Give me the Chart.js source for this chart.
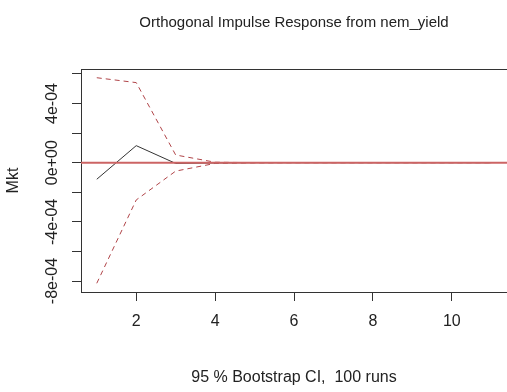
<!DOCTYPE html>
<html>
<head>
<meta charset="utf-8">
<script src="https://cdn.jsdelivr.net/npm/chart.js@4"></script>
<style>
  html, body { margin: 0; padding: 0; background: #fff; }
  #wrap { width: 507px; height: 392px; }
</style>
</head>
<body>
<div id="wrap"><canvas id="c" width="507" height="392"></canvas></div>
<script>
// ---- data ----
const horizon = [1, 2, 3, 4, 5, 6, 7, 8, 9, 10, 11];
const irfMkt = [-1.12e-4, 1.15e-4, -0.05e-4, -0.02e-4, 0, 0, 0, 0, 0, 0, 0];
const upperCI = [5.74e-4, 5.41e-4, 0.52e-4, 0.03e-4, 0, 0, 0, 0, 0, 0, 0];
const lowerCI = [-8.15e-4, -2.52e-4, -0.57e-4, -0.05e-4, -0.01e-4, 0, 0, 0, 0, 0, 0];
const zeroLine = 0;
const xTickValues = [2, 4, 6, 8, 10];
const yTickValues = [-8e-4, -6e-4, -4e-4, -2e-4, 0, 2e-4, 4e-4, 6e-4];
const yTickLabels = ['-8e-04', '', '-4e-04', '', '0e+00', '', '4e-04', ''];
const xRange = [0.6, 11.4];
const yRange = [-8.74e-4, 6.33e-4];
const titleText = 'Orthogonal Impulse Response from nem_yield';
const subText = '95 % Bootstrap CI,  100 runs';
const yTitle = 'Mkt';

const FONT = "'Liberation Sans', Arial, sans-serif";
const toPts = (vals) => vals.map((v, i) => ({ x: horizon[i], y: v }));

const extras = {
  id: 'extras',
  afterDatasetsDraw(chart) {
    const { ctx, chartArea: a, scales: { x, y } } = chart;
    // red zero line (abline h=0)
    const y0 = y.getPixelForValue(zeroLine);
    ctx.save();
    ctx.strokeStyle = '#cc6464';
    ctx.lineWidth = 2;
    ctx.beginPath();
    ctx.moveTo(a.left, y0);
    ctx.lineTo(a.right, y0);
    ctx.stroke();
    // top edge of the box (right edge falls off the picture)
    ctx.lineWidth = 1;
    ctx.strokeStyle = '#333';
    ctx.beginPath();
    ctx.moveTo(a.left, a.top + 0.5);
    ctx.lineTo(a.right + 2, a.top + 0.5);
    ctx.stroke();
    ctx.restore();
  },
  afterDraw(chart) {
    const { ctx, scales: { y } } = chart;
    ctx.save();
    ctx.fillStyle = '#222';
    ctx.font = '16px ' + FONT;
    ctx.textAlign = 'center';
    ctx.textBaseline = 'middle';
    yTickValues.forEach((v, i) => {
      if (!yTickLabels[i]) return;
      const py = y.getPixelForValue(v);
      ctx.save();
      ctx.translate(53, py);
      ctx.rotate(-Math.PI / 2);
      ctx.fillText(yTickLabels[i], 0, 0);
      ctx.restore();
    });
    ctx.restore();
  }
};

new Chart(document.getElementById('c'), {
  type: 'line',
  data: {
    datasets: [
      { data: toPts(irfMkt), borderColor: '#333', borderWidth: 1, pointRadius: 0, tension: 0 },
      { data: toPts(upperCI), borderColor: '#b04448', borderWidth: 1, borderDash: [5, 4], pointRadius: 0, tension: 0 },
      { data: toPts(lowerCI), borderColor: '#b04448', borderWidth: 1, borderDash: [5, 4], pointRadius: 0, tension: 0 }
    ]
  },
  options: {
    responsive: false,
    animation: false,
    layout: { padding: 0 },
    plugins: {
      legend: { display: false },
      tooltip: { enabled: false },
      title: {
        display: true,
        fullSize: false,
        text: titleText,
        color: '#222',
        font: { family: FONT, size: 15, weight: 'normal', lineHeight: 1.2 },
        padding: { top: 14, bottom: 37 }
      }
    },
    scales: {
      x: {
        type: 'linear',
        min: xRange[0],
        max: xRange[1],
        afterBuildTicks: (s) => { s.ticks = xTickValues.map(v => ({ value: v })); },
        afterFit: (s) => { s.height = 100; },
        ticks: {
          color: '#222',
          font: { family: FONT, size: 16 },
          padding: 11,
          maxRotation: 0,
          callback: (v) => String(v)
        },
        grid: { display: true, drawOnChartArea: false, drawTicks: true, tickLength: 9, color: '#333' },
        border: { display: true, color: '#333' },
        title: {
          display: true,
          text: subText,
          color: '#222',
          font: { family: FONT, size: 16, lineHeight: 1.2 },
          padding: { top: 0, bottom: 5 }
        }
      },
      y: {
        type: 'linear',
        min: yRange[0],
        max: yRange[1],
        afterBuildTicks: (s) => { s.ticks = yTickValues.map(v => ({ value: v })); },
        afterFit: (s) => { s.width = 81; },
        ticks: { display: false },
        grid: { display: true, drawOnChartArea: false, drawTicks: true, tickLength: 9, color: '#333' },
        border: { display: true, color: '#333' },
        title: {
          display: true,
          text: yTitle,
          color: '#222',
          font: { family: FONT, size: 16, lineHeight: 1.2 },
          padding: { top: 4, bottom: 0 }
        }
      }
    }
  },
  plugins: [extras]
});
</script>
</body>
</html>
